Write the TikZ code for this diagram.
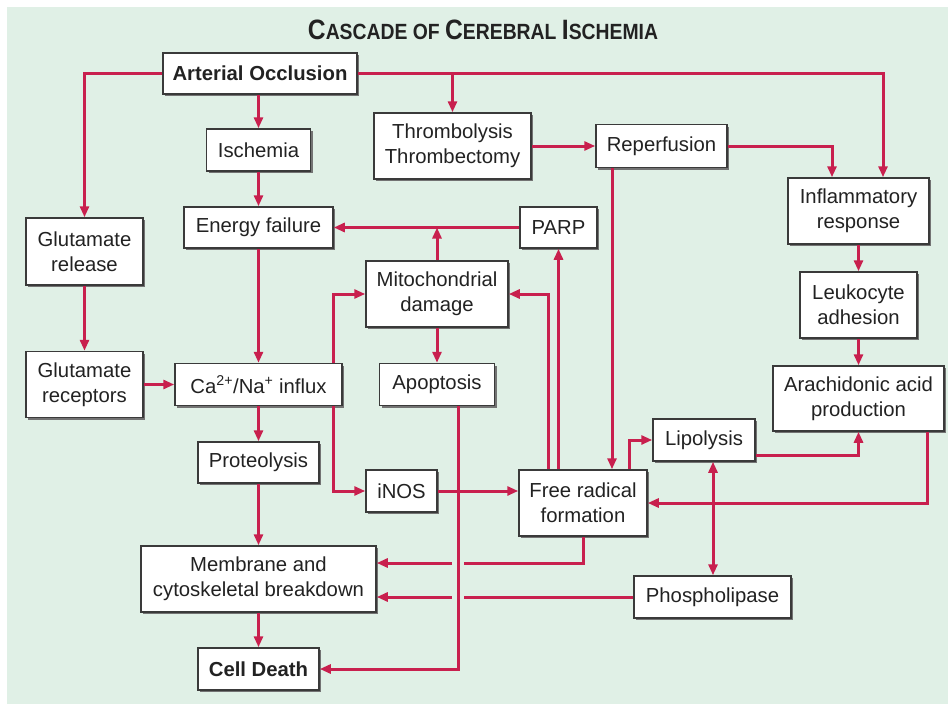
\documentclass[tikz,border=0pt]{standalone}
\usepackage{fontspec}
\setmainfont{Liberation Sans}
\newfontfamily\titlefont[FakeStretch=0.88]{Liberation Sans}
\usetikzlibrary{arrows.meta,shadows}
\definecolor{bgc}{HTML}{E0F0E6}
\definecolor{linec}{HTML}{C8204E}
\definecolor{boxc}{HTML}{3A3A3A}
\definecolor{txtc}{HTML}{222222}
\newcommand{\tbig}[1]{{\fontsize{28}{28}\selectfont #1}}
\newcommand{\tsml}[1]{{\fontsize{22}{28}\selectfont #1}}
\tikzset{
  box/.style={draw=boxc, line width=1.5pt, fill=white, inner sep=0pt, align=center,
    text=txtc, font=\fontsize{20.3}{25}\selectfont,
    drop shadow={shadow xshift=2.2pt, shadow yshift=-2.2pt, fill=black!55, opacity=1}},
  boldbox/.style={box, font=\fontsize{20.3}{25}\selectfont\bfseries},
  arr/.style={draw=linec, line width=3pt, -{Triangle[length=11pt,width=9pt]}},
  arrtwo/.style={draw=linec, line width=3pt, {Triangle[length=11pt,width=9pt]}-{Triangle[length=11pt,width=9pt]}},
}
\begin{document}
\begin{tikzpicture}[x=1pt,y=1pt]
\useasboundingbox (0,0) rectangle (948,-704);
\fill[bgc] (7,-7) rectangle (948,-704);
\node[text=txtc, font=\titlefont\bfseries] (title) at (483,-30)
  {\tbig{C}\tsml{ASCADE OF }\tbig{C}\tsml{EREBRAL }\tbig{I}\tsml{SCHEMIA}};

% nodes
\node[boldbox, minimum width=194pt, minimum height=41pt] (AO) at (260,-73.5) {Arterial Occlusion};
\node[box, minimum width=104pt, minimum height=42pt] (Isch) at (258.5,-150) {Ischemia};
\node[box, minimum width=157pt, minimum height=66pt] (Thromb) at (452.5,-146) {Thrombolysis\\Thrombectomy};
\node[box, minimum width=131pt, minimum height=43pt] (Reperf) at (661.5,-146) {Reperfusion};
\node[box, minimum width=141pt, minimum height=66pt] (Inflam) at (858.5,-211) {Inflammatory\\response};
\node[box, minimum width=117pt, minimum height=67pt] (GluRel) at (84.5,-251.5) {Glutamate\\release};
\node[box, minimum width=149pt, minimum height=41pt] (Energy) at (258.5,-227.5) {Energy failure};
\node[box, minimum width=77pt, minimum height=41pt] (PARP) at (558.5,-227.5) {PARP};
\node[box, minimum width=142pt, minimum height=66pt] (Mito) at (437,-294) {Mitochondrial\\damage};
\node[box, minimum width=117pt, minimum height=66pt] (Leuko) at (858.5,-305) {Leukocyte\\adhesion};
\node[box, minimum width=117pt, minimum height=66pt] (GluRec) at (84.5,-384.5) {Glutamate\\receptors};
\node[box, minimum width=167pt, minimum height=42pt] (Ca) at (258.5,-384.5) {Ca\textsuperscript{2+}/Na\textsuperscript{+} influx};
\node[box, minimum width=115pt, minimum height=42pt] (Apop) at (437,-384.5) {Apoptosis};
\node[box, minimum width=171pt, minimum height=65pt] (Arach) at (858.5,-398.5) {Arachidonic acid\\production};
\node[box, minimum width=102pt, minimum height=42pt] (Lipo) at (704,-440) {Lipolysis};
\node[box, minimum width=121pt, minimum height=41pt] (Prot) at (258.5,-462.5) {Proteolysis};
\node[box, minimum width=71pt, minimum height=42pt] (iNOS) at (401.5,-491) {iNOS};
\node[box, minimum width=128pt, minimum height=66pt] (FR) at (583,-503) {Free radical\\formation};
\node[box, minimum width=235pt, minimum height=66pt] (Memb) at (258.5,-579) {Membrane and\\cytoskeletal breakdown};
\node[box, minimum width=157pt, minimum height=42pt] (Phos) at (712.5,-597) {Phospholipase};
\node[boldbox, minimum width=121pt, minimum height=42pt] (Death) at (258.5,-669) {Cell Death};

% helper coordinates
\coordinate (kA) at (883,0);
\coordinate (kB) at (832,0);
\coordinate (kC) at (333,0);
\coordinate (kD) at (458,0);
\coordinate (kE) at (548,0);
\coordinate (kF) at (612,0);
\coordinate (kG) at (629,0);
\coordinate (kH) at (0,-455);
\coordinate (kI) at (927,0);
\coordinate (kK) at (713,0);
\coordinate (kL) at (0,-563);

% connectors
\draw[arr] (AO.west) -| (GluRel.north);
\draw[arr] (AO.east) -| (kA |- Inflam.north);
\draw[arr] (Thromb.north |- AO.east) -- (Thromb.north);
\draw[arr] (AO.south -| Isch.north) -- (Isch.north);
\draw[arr] (Isch.south) -- (Energy.north);
\draw[arr] (Energy.south) -- (Ca.north);
\draw[arr] (Ca.south) -- (Prot.north);
\draw[arr] (Prot.south) -- (Memb.north);
\draw[arr] (Memb.south) -- (Death.north);
\draw[arr] (GluRel.south) -- (GluRec.north);
\draw[arr] (GluRec.east) -- (Ca.west);
\draw[arr] (Thromb.east) -- (Thromb.east -| Reperf.west);
\draw[arr] (Reperf.east) -| (kB |- Inflam.north);
\draw[arr] (Inflam.south) -- (Leuko.north);
\draw[arr] (Leuko.south) -- (Arach.north);
\draw[arr] (Reperf.south -| kF) -- (FR.north -| kF);
\draw[arr] (PARP.west) -- (Energy.east);
\draw[arr] (Mito.north) -- (Mito.north |- Energy.east);
\draw[arr] (Ca.north -| kC) |- (Mito.west);
\draw[arr] (Ca.south -| kC) |- (iNOS.west);
\draw[arr] (Mito.south) -- (Apop.north);
\draw[arr] (iNOS.east) -- (FR.west |- iNOS.east);
\draw[arr] (FR.north -| kE) |- (Mito.east);
\draw[arr] (FR.north -| PARP.south) -- (PARP.south);
\draw[arr] (FR.north -| kG) |- (Lipo.west);
\draw[arr] (Lipo.east |- kH) -| (Arach.south);
\draw[arr] (Arach.south -| kI) |- (FR.east);
\draw[arrtwo] (Lipo.south -| kK) -- (Phos.north -| kK);
\draw[arr] (FR.south) |- (Memb.east |- kL);
\draw[arr] (Phos.west) -- (Phos.west -| Memb.east);
% gap where the apoptosis line crosses
\fill[bgc] (452,-555) rectangle (464,-604);
\draw[arr] (Apop.south -| kD) |- (Death.east);
\end{tikzpicture}
\end{document}
